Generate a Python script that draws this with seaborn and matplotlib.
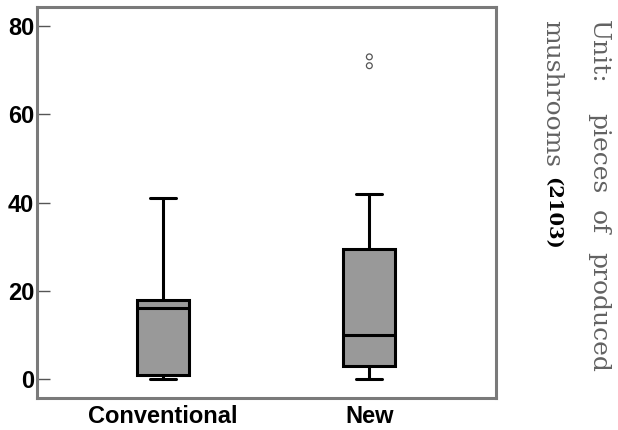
import numpy as np
import pandas as pd
import matplotlib
matplotlib.use("Agg")
import matplotlib.pyplot as plt
import seaborn as sns

# ---- data ----
categories = ["Conventional", "New"]
# five-number summaries: whisker low, Q1, median, Q3, whisker high
conventional_vals = [0, 1, 16, 18, 41]
new_vals = [0, 3, 10, 29.5, 42]
new_outliers = [71, 73]
yticks = [0, 20, 40, 60, 80]

sns.set_theme(style="white")
plt.rcParams["font.family"] = ["Liberation Sans", "DejaVu Sans"]

df = pd.DataFrame({
    "group": [categories[0]] * len(conventional_vals) + [categories[1]] * len(new_vals),
    "value": conventional_vals + new_vals,
})
out_df = pd.DataFrame({"group": [categories[1]] * len(new_outliers), "value": new_outliers})

fig = plt.figure(figsize=(6.18, 4.30), dpi=100)
ax = fig.add_axes([37 / 618, 1 - 398.3 / 430, (496 - 37) / 618, (398.3 - 6.7) / 430])

lw = 2.2
sns.boxplot(data=df, x="group", y="value", order=categories, ax=ax,
            color="#999999", saturation=1, width=0.252, whis=np.inf,
            linewidth=lw, linecolor="black",
            boxprops=dict(edgecolor="black", linewidth=lw),
            medianprops=dict(color="black", linewidth=lw),
            whiskerprops=dict(color="black", linewidth=lw),
            capprops=dict(color="black", linewidth=lw))
sns.stripplot(data=out_df, x="group", y="value", order=categories, ax=ax,
              jitter=False, marker="o", size=4.2, facecolor="none",
              edgecolor="#555555", linewidth=0.9, color="#555555")
for coll in ax.collections:
    coll.set_facecolor("none")

ax.set_xlim(-0.611, 1.614)
ax.set_ylim(-4.37, 84.37)
ax.set_yticks(yticks)
ax.set_yticklabels([str(t) for t in yticks])
ax.set_xlabel("")
ax.set_ylabel("")

for s in ax.spines.values():
    s.set_visible(True)
    s.set_color("#7a7a7a")
    s.set_linewidth(2.2)

ax.tick_params(axis="y", left=True, direction="in", length=9.4, width=1.0,
               color="#555555", pad=2, labelsize=17)
ax.tick_params(axis="x", bottom=False, length=0, pad=5, labelsize=17)
for lab in ax.get_xticklabels() + ax.get_yticklabels():
    lab.set_fontweight("bold")
    lab.set_color("black")

# ---- rotated unit note on the right ----
gray = "#626262"
serif = ["DejaVu Serif"]
col1_x = 598.5 / 618
col2_x = 551.5 / 618
fs = 18
for word, ytop in [("Unit:", 20), ("pieces", 113), ("of", 210), ("produced", 252)]:
    fig.text(col1_x, 1 - ytop / 430, word, rotation=-90, ha="center", va="top",
             fontsize=fs, color=gray, family=serif)
fig.text(col2_x, 1 - 20 / 430, "mushrooms", rotation=-90, ha="center", va="top",
         fontsize=fs, color=gray, family=serif)
fig.text(col2_x + 1 / 618, 1 - 177 / 430, "(2103)", rotation=-90, ha="center", va="top",
         fontsize=14, color="black", family=serif, fontweight="bold")

fig.savefig("out.png", dpi=100)
